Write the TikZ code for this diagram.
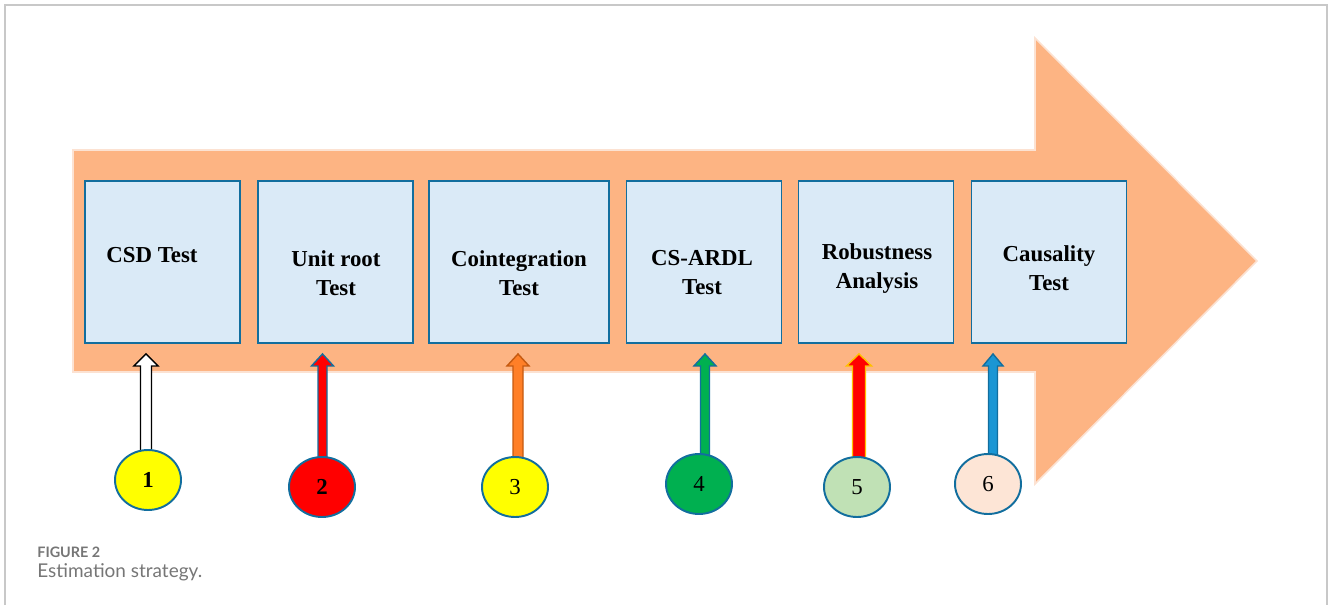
\documentclass[tikz,border=0pt]{standalone}
\usepackage{fontspec}
\setmainfont{Liberation Serif}
\newfontfamily\capfont{Lato}
\usetikzlibrary{shapes.geometric,calc}

\definecolor{bigfill}{RGB}{253,180,131}
\definecolor{bigedge}{RGB}{252,226,210}
\definecolor{boxfill}{RGB}{218,234,247}
\definecolor{boxedge}{RGB}{18,110,158}
\definecolor{framegray}{RGB}{200,200,200}
\definecolor{capgray}{RGB}{118,118,118}
\definecolor{pyellow}{RGB}{255,255,0}
\definecolor{pred}{RGB}{255,0,0}
\definecolor{porange}{RGB}{255,127,39}
\definecolor{porangeedge}{RGB}{197,90,17}
\definecolor{pgreen}{RGB}{0,176,80}
\definecolor{pgold}{RGB}{255,192,0}
\definecolor{plightgreen}{RGB}{192,225,181}
\definecolor{pblue}{RGB}{27,150,212}
\definecolor{ppeach}{RGB}{253,229,214}

\pgfdeclarelayer{back}
\pgfsetlayers{back,main}

% style, circle, box, x offset, shaft half width, head half width
\newcommand{\pointup}[6]{%
  \draw[#1] ($(#2.north)+(#4-#5,4)$)
    -- ($(#2.north|-#3.south)+(#4-#5,22)$)
    -- ($(#2.north|-#3.south)+(#4-#6,22)$)
    -- ($(#2.north|-#3.south)+(#4,10)$)
    -- ($(#2.north|-#3.south)+(#4+#6,22)$)
    -- ($(#2.north|-#3.south)+(#4+#5,22)$)
    -- ($(#2.north)+(#4+#5,4)$) -- cycle;}

\begin{document}
\begin{tikzpicture}[
    x=0.02cm, y=-0.02cm,
    stage/.style={
        rectangle,
        draw=boxedge,
        fill=boxfill,
        line width=1.1pt,
        minimum width=3.1cm,
        minimum height=3.24cm,
        inner sep=0pt,
    },
    stagetext/.style={
        font=\bfseries\fontsize{13}{16.4}\selectfont,
        align=center,
    },
    ball/.style={
        ellipse,
        draw=boxedge,
        line width=1.1pt,
        minimum width=1.32cm,
        minimum height=1.2cm,
        inner sep=0pt,
        font=\fontsize{13}{15}\selectfont,
    },
    pointer/.style={
        line width=0.8pt,
        line join=miter,
    },
    frame/.style={
        draw=framegray,
        line width=0.85pt,
    },
    caption/.style={
        anchor=base west,
        inner sep=0pt,
        text=capgray,
    }
]

    \useasboundingbox (0,0) rectangle (1328,605);
    \draw[frame] (5,605) -- (5,5) -- (1327,5) -- (1327,605);

    \node[stage] (b1) at (162.5,262) {};
    \node[stage] (b2) at (335.5,262) {};
    \node[stage, minimum width=3.6cm] (b3) at (519,262) {};
    \node[stage] (b4) at (704,262) {};
    \node[stage] (b5) at (876,262) {};
    \node[stage] (b6) at (1049,262) {};

    \node[stagetext] (t1) at (152,255) {CSD Test};
    \node[stagetext] (t2) at (336,273.5) {Unit root\\Test};
    \node[stagetext] (t3) at (519,273.5) {Cointegration\\Test};
    \node[stagetext] (t4) at (702,272.5) {CS-ARDL\\Test};
    \node[stagetext] (t5) at (877,268.5) {Robustness\\Analysis};
    \node[stagetext] (t6) at (1049,268.5) {Causality\\Test};

    \node[ball, fill=pyellow, font=\bfseries\fontsize{13}{15}\selectfont] (c1) at (148,480) {1};
    \node[ball, fill=pred, font=\bfseries\fontsize{13}{15}\selectfont] (c2) at (322,487) {2};
    \node[ball, fill=pyellow] (c3) at (515,487) {3};
    \node[ball, fill=pgreen] (c4) at (699,484) {4};
    \node[ball, fill=plightgreen] (c5) at (857,487) {5};
    \node[ball, fill=ppeach] (c6) at (988,484) {6};

    \node[caption, font=\capfont\bfseries\fontsize{8.2}{9}\selectfont] (fig) at (37,557) {FIGURE 2};
    \node[caption, font=\capfont\fontsize{10.8}{13}\selectfont] (cap) at (37,577) {Estimation strategy.};

    \begin{pgfonlayer}{back}
        \draw[fill=bigfill, draw=bigedge, line width=0.9pt, line join=miter]
            (73,150) -- (1035,150) -- (1035,38) -- (1257,261)
            -- (1035,484) -- (1035,372) -- (73,372) -- cycle;

        \pointup{pointer, fill=white, draw=black}{c1}{b1}{-2}{5.5}{12}
        \pointup{pointer, fill=pred, draw=boxedge}{c2}{b2}{0.5}{4.5}{11}
        \pointup{pointer, fill=porange, draw=porangeedge}{c3}{b3}{3}{5}{11}
        \pointup{pointer, fill=pgreen, draw=boxedge}{c4}{b4}{6}{4.5}{11}
        \pointup{pointer, fill=pred, draw=pgold}{c5}{b5}{2}{6.5}{12.5}
        \pointup{pointer, fill=pblue, draw=boxedge}{c6}{b6}{5}{4.5}{10}
    \end{pgfonlayer}

\end{tikzpicture}
\end{document}
